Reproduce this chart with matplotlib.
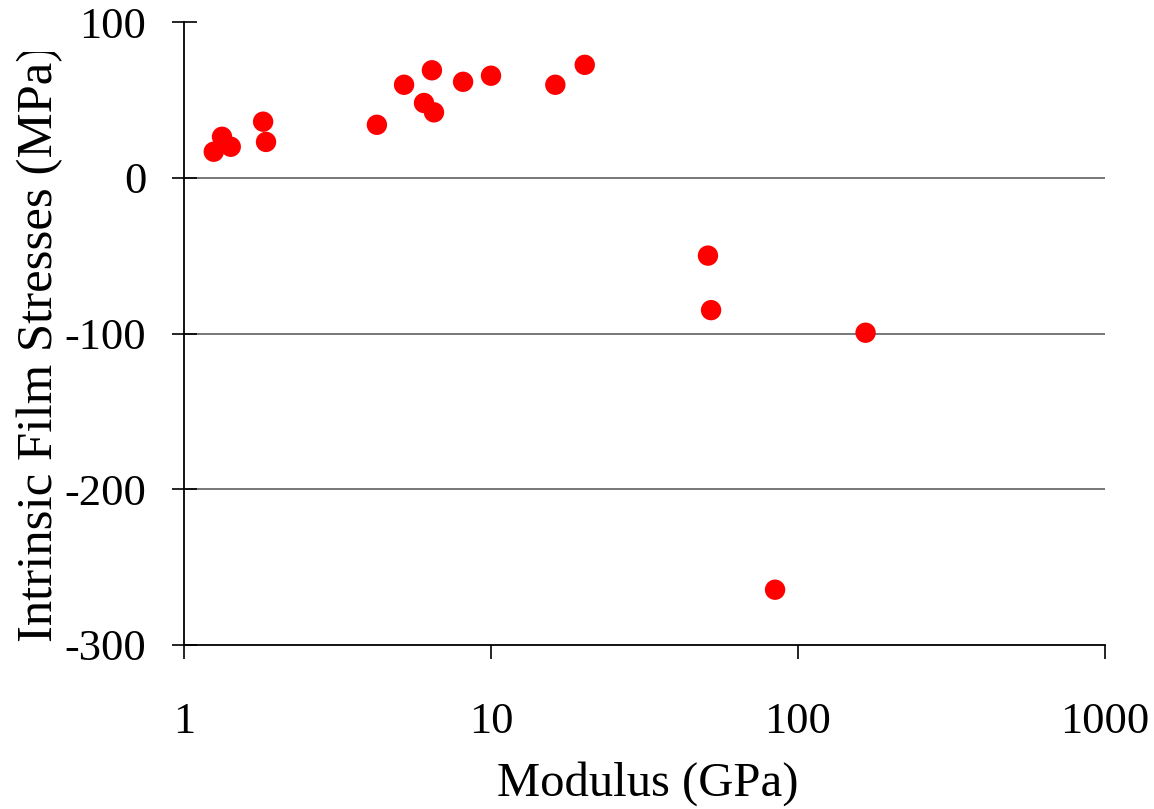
import numpy as np
from matplotlib import pyplot as plt
from matplotlib.transforms import Bbox, TransformedBbox

# Values
modulus = [1.25, 1.33, 1.42, 1.81, 1.85, 4.25, 5.21, 6.05, 6.42, 6.52,
           8.11, 10.0, 16.2, 20.2, 50.9, 52.1, 166, 84.2]
stress = [16.7, 26.3, 19.9, 36, 23, 34, 59.7, 48, 69, 42,
          61.6, 65.5, 59.7, 72.5, -50, -85, -99.5, -264.5]

yticks = [100, 0, -100, -200, -300]
yticklabels = ['100', '0', '-100', '-200', '-300']
xticks = [1, 10, 100, 1000]
xticklabels = ['1', '10', '100', '1000']

plt.rcParams['font.family'] = ['Liberation Serif', 'DejaVu Serif']
plt.rcParams['font.size'] = 32

fig = plt.figure(figsize=(11.54, 8.09), dpi=100)
ax = fig.add_axes([184/1154, 1 - 645/809, (1105-184)/1154, (645-22)/809])

for y in [0, -100, -200]:
    ax.axhline(y, color='#606060', lw=1.2, zorder=1)

ax.scatter(modulus, stress, s=215, color='#ff0000', edgecolors='none', zorder=3)

ax.set_xscale('log')
ax.set_xlim(1, 1000)
ax.set_ylim(-300, 100)
ax.set_xticks(xticks)
ax.set_xticklabels(xticklabels)
ax.xaxis.set_minor_locator(plt.NullLocator())
ax.set_yticks(yticks)
ax.set_yticklabels(yticklabels)

for s in ['top', 'right']:
    ax.spines[s].set_visible(False)
for s in ['left', 'bottom']:
    ax.spines[s].set_linewidth(1.3)
    ax.spines[s].set_color('black')

ax.tick_params(axis='y', direction='inout', length=18, width=1.2, pad=18)
ax.tick_params(axis='x', direction='out', length=10, width=1.2, pad=31)

fig.text(0.5615, 1 - 784/809, 'Modulus (GPa)', ha='center', va='center', fontsize=35)
ylab = fig.text(40/1154, 1 - 642/809, 'Intrinsic Film Stresses (MPa)', ha='center',
                va='bottom', rotation=90, fontsize=36.5)
# the original cuts the label off near the top
ylab.set_clip_box(TransformedBbox(Bbox([[0, 0], [1, 1 - 52/809]]), fig.transFigure))
ylab.set_clip_on(True)

fig.savefig('out.png', dpi=100)
